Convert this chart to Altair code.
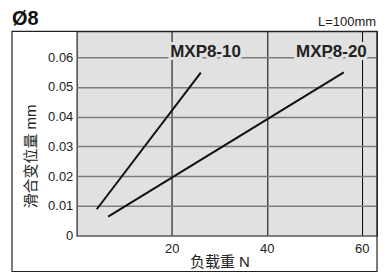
import altair as alt
import pandas as pd

series = ["MXP8-10", "MXP8-10", "MXP8-20", "MXP8-20"]
load_n = [4.2, 26.1, 6.6, 56.2]
displacement = [0.0089, 0.0548, 0.0064, 0.0549]

label_text = ["MXP8-10", "MXP8-20"]
label_x = [27.1, 53.6]
label_y = [0.0619, 0.0619]

x_ticks = [20, 40, 60]
y_ticks = [0, 0.01, 0.02, 0.03, 0.04, 0.05, 0.06]

FONT = "Liberation Sans, Arial, Helvetica, Noto Sans CJK SC, sans-serif"

lines_df = pd.DataFrame({"series": series, "x": load_n, "y": displacement})
labels_df = pd.DataFrame({"t": label_text, "x": label_x, "y": label_y})

W, H = 301, 205
xscale = alt.Scale(domain=[0, 63.2], nice=False, zero=False)
yscale = alt.Scale(domain=[0, 0.0687], nice=False, zero=False)

x_axis = alt.Axis(
    values=x_ticks, title="负载重 N", grid=True, gridColor="#000000", gridWidth=1,
    ticks=False, domain=False, labelPadding=7, labelFontSize=13, labelColor="#222",
    labelFont=FONT, titleFont=FONT, titleFontSize=15, titleFontWeight="normal",
    titleColor="#222", titleX=143, titleY=31, titleBaseline="alphabetic",
    labelOverlap=False, tickCount=20,
)
y_axis = alt.Axis(
    values=y_ticks, title="滑合变位量 mm", grid=True, gridColor="#7d7d7d", gridWidth=1.5,
    ticks=False, domain=False, labelPadding=4, labelFontSize=13, labelColor="#222",
    labelFont=FONT, titleFont=FONT, titleFontSize=15, titleFontWeight="normal",
    titleColor="#222", titleX=-46, titleY=125, titleBaseline="middle", titleAngle=270,
    labelExpr="datum.value == 0 ? '0' : format(datum.value, '.2f')",
    labelOverlap=False, tickCount=20,
)

lines = alt.Chart(lines_df).mark_line(color="#111", strokeWidth=2).encode(
    x=alt.X("x:Q", scale=xscale, axis=x_axis),
    y=alt.Y("y:Q", scale=yscale, axis=y_axis),
    detail="series:N",
)

halo = alt.Chart(labels_df).mark_text(
    font=FONT, fontSize=17, fontWeight="bold", color="#e1e1e1",
    stroke="#e1e1e1", strokeWidth=6, baseline="middle", align="center",
).encode(x=alt.X("x:Q", scale=xscale, axis=x_axis),
         y=alt.Y("y:Q", scale=yscale, axis=y_axis), text="t:N")

labels = alt.Chart(labels_df).mark_text(
    font=FONT, fontSize=17, fontWeight="bold", color="#222",
    baseline="middle", align="center",
).encode(x=alt.X("x:Q", scale=xscale, axis=x_axis),
         y=alt.Y("y:Q", scale=yscale, axis=y_axis), text="t:N")

frame_df = pd.DataFrame({"a": [0]})
frame = alt.Chart(frame_df).mark_rect(
    fill=None, stroke="#222", strokeWidth=1.2, clip=False
).encode(
    x=alt.value(-65), x2=alt.value(W), y=alt.value(0), y2=alt.value(241)
)

title = alt.Chart(pd.DataFrame({"t": ["Ø8"]})).mark_text(
    font=FONT, fontSize=20, fontWeight="bold", color="#111",
    align="left", baseline="alphabetic",
).encode(x=alt.value(-65), y=alt.value(-6), text="t:N")

note = alt.Chart(pd.DataFrame({"t": ["L=100mm"]})).mark_text(
    font=FONT, fontSize=13, color="#222", align="right", baseline="alphabetic",
).encode(x=alt.value(W - 1), y=alt.value(-5), text="t:N")

chart = alt.layer(lines, halo, labels, frame, title, note).properties(
    width=W, height=H,
    autosize=alt.AutoSizeParams(type="none"),
    padding={"left": 69, "top": 23, "right": 4, "bottom": 36},
    background="white",
).configure_view(
    fill="#e1e1e1", stroke="#222", strokeWidth=1.2
)

chart.save("out.html", embed_options={"renderer": "svg", "actions": False})
